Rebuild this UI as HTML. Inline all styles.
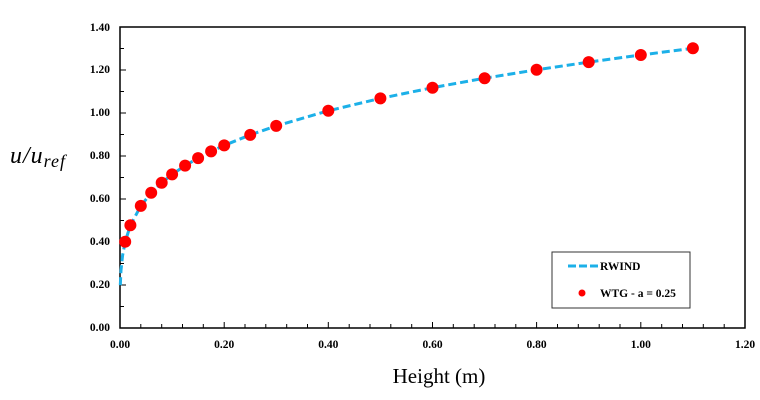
<!DOCTYPE html>
<html><head><meta charset="utf-8"><style>
body{margin:0;background:#fff;}
svg{display:block}
.t{font-family:"Liberation Serif",serif;font-weight:bold;font-size:11.5px;fill:#000}
</style></head><body>
<svg width="760" height="400" viewBox="0 0 760 400" xmlns="http://www.w3.org/2000/svg">
<rect x="0" y="0" width="760" height="400" fill="#fff"/>
<rect x="120" y="27" width="625" height="301" fill="none" stroke="#000" stroke-width="1.5"/>
<g stroke="#000" stroke-width="1">
<path d="M120 328v-6M224.2 328v-6M328.3 328v-6M432.5 328v-6M536.6 328v-6M640.8 328v-6M745 328v-6"/>
<path d="M140.8 328v-4M161.7 328v-4M182.5 328v-4M203.3 328v-4M245 328v-4M265.8 328v-4M286.7 328v-4M307.5 328v-4M349.2 328v-4M370 328v-4M390.8 328v-4M411.7 328v-4M453.3 328v-4M474.2 328v-4M495 328v-4M515.8 328v-4M557.5 328v-4M578.3 328v-4M599.2 328v-4M620 328v-4M661.7 328v-4M682.5 328v-4M703.3 328v-4M724.2 328v-4"/>
<path d="M120 285h6M120 242h6M120 199h6M120 156h6M120 113h6M120 70h6"/>
<path d="M120 306.5h4M120 263.5h4M120 220.5h4M120 177.5h4M120 134.5h4M120 91.5h4M120 48.5h4"/>
</g>
<g class="t" text-anchor="end">
<text x="110" y="331">0.00</text><text x="110" y="288">0.20</text><text x="110" y="245">0.40</text><text x="110" y="202">0.60</text><text x="110" y="159">0.80</text><text x="110" y="116">1.00</text><text x="110" y="73">1.20</text><text x="110" y="31">1.40</text>
</g>
<g class="t" text-anchor="middle">
<text x="120" y="348">0.00</text><text x="224.2" y="348">0.20</text><text x="328.3" y="348">0.40</text><text x="432.5" y="348">0.60</text><text x="536.6" y="348">0.80</text><text x="640.8" y="348">1.00</text><text x="745" y="348">1.20</text>
</g>
<text x="439" y="383" text-anchor="middle" font-family="'Liberation Serif',serif" font-size="21">Height (m)</text>
<text x="10" y="163" font-family="'Liberation Serif',serif" font-style="italic" font-size="24" letter-spacing="1">u/u<tspan font-size="18" dy="4">ref</tspan></text>
<polyline fill="none" stroke="#1cb0e8" stroke-width="3" stroke-dasharray="8,4" points="120.3,285.2 121,270.2 122.6,255.4 125.2,241.7 130.4,225.3 140.8,205.9 151.2,192.8 161.7,182.8 172.1,174.4 185.1,165.6 198.1,158.1 211.1,151.4 224.2,145.4 250.2,134.9 276.2,125.9 328.3,110.8 380.4,98.4 432.5,87.7 484.6,78.2 536.6,69.8 588.7,62.1 640.8,55 692.9,48.3"/>
<g fill="#f00">
<circle cx="125.2" cy="241.7" r="6"/><circle cx="130.4" cy="225.3" r="6"/><circle cx="140.8" cy="205.9" r="6"/><circle cx="151.2" cy="192.8" r="6"/><circle cx="161.7" cy="182.8" r="6"/><circle cx="172.1" cy="174.4" r="6"/><circle cx="185.1" cy="165.6" r="6"/><circle cx="198.1" cy="158.1" r="6"/><circle cx="211.1" cy="151.4" r="6"/><circle cx="224.2" cy="145.4" r="6"/><circle cx="250.2" cy="134.9" r="6"/><circle cx="276.2" cy="125.9" r="6"/><circle cx="328.3" cy="110.8" r="6"/><circle cx="380.4" cy="98.4" r="6"/><circle cx="432.5" cy="87.7" r="6"/><circle cx="484.6" cy="78.2" r="6"/><circle cx="536.6" cy="69.8" r="6"/><circle cx="588.7" cy="62.1" r="6"/><circle cx="640.8" cy="55" r="6"/><circle cx="692.9" cy="48.3" r="6"/>
</g>
<rect x="552" y="252" width="138" height="56" fill="#fff" stroke="#333" stroke-width="1"/>
<line x1="568" y1="266" x2="598" y2="266" stroke="#1cb0e8" stroke-width="3" stroke-dasharray="8,3"/>
<text x="600" y="270" class="t">RWIND</text>
<circle cx="582" cy="293" r="3.5" fill="#f00"/>
<text x="600" y="297" class="t">WTG - a = 0.25</text>
</svg>
</body></html>
